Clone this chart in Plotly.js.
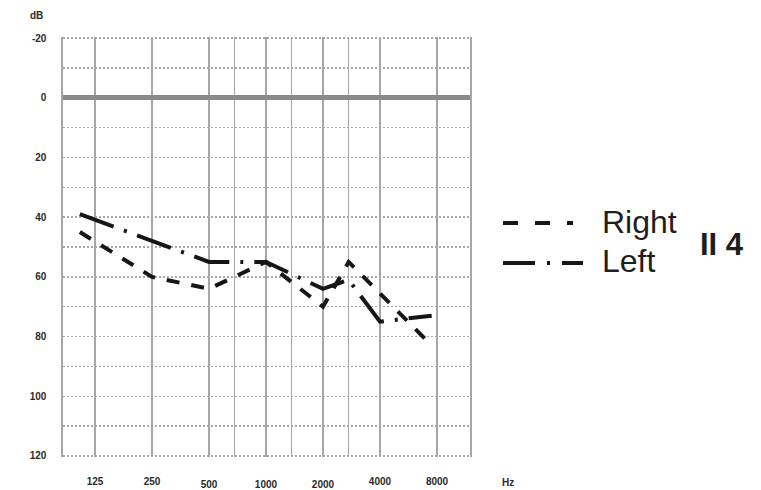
<!DOCTYPE html>
<html>
<head>
<meta charset="utf-8">
<script src="https://cdn.plot.ly/plotly-3.0.1.min.js"></script>
<style>html,body{margin:0;padding:0;background:#fff;}#chart{width:761px;height:490px;}</style>
</head>
<body>
<div id="chart"></div>
<script>
// ---- data ----
const octaveHz = [125, 250, 500, 1000, 2000, 4000, 8000];
const midHz = [750, 1500, 3000];            // inter-octave grid lines on the form
const xTickLabels = ['125', '250', '500', '1000', '2000', '4000', '8000'];
const yLabelVals = [-20, 0, 20, 40, 60, 80, 100, 120];

const rightHz = [104, 250, 500, 1000, 2000, 3000, 7500];
const rightDb = [45, 60, 64, 55, 70, 55, 83];

const leftHz = [104, 500, 1000, 2000, 3000, 4000, 6000, 7500];
const leftDb = [39, 55, 55, 64, 61, 75, 74, 73];

// audiogram-form x position: one unit per octave from 125 Hz,
// inter-octave frequencies sit at the form's intermediate line
const INTER = 0.45;
const interHz = [750, 1500, 3000, 6000];
function audPos(f) {
  const k = Math.log2(f / 125);
  if (interHz.includes(f)) return Math.floor(k) + INTER;
  return k;
}

const gridPos = octaveHz.concat(midHz).map(audPos).sort((a, b) => a - b);
const lowerSet = ['500', '1000', '2000'];
const upperText = gridPos.map(p => {
  const i = octaveHz.map(audPos).indexOf(p);
  if (i < 0) return '';
  return lowerSet.includes(xTickLabels[i]) ? '' : xTickLabels[i];
});
const lowerVals = octaveHz.filter((f, i) => lowerSet.includes(xTickLabels[i])).map(audPos);
const lowerText = xTickLabels.filter(t => lowerSet.includes(t));

const yGridVals = [];
for (let v = -20; v <= 120; v += 10) yGridVals.push(v);
const yGridText = yGridVals.map(v => yLabelVals.includes(v) ? String(v) : '');

const FONT = 'Liberation Sans, Arial, sans-serif';
const INK = '#161616';
const GRID = '#a6a6a6';
const tickFont = {family: FONT, size: 10, color: '#2a2a2a', weight: 'bold'};
const xRange = [-0.561, 6.579];

const traces = [
  {x: rightHz.map(audPos), y: rightDb, type: 'scatter', mode: 'lines', name: 'Right',
   line: {color: INK, width: 4, dash: '13px,12px'}, showlegend: false, hoverinfo: 'skip'},
  {x: leftHz.map(audPos), y: leftDb, type: 'scatter', mode: 'lines', name: 'Left',
   line: {color: INK, width: 4, dash: '36px,11px,3px,11px'}, showlegend: false, hoverinfo: 'skip'},
  {x: [], y: [], xaxis: 'x2', yaxis: 'y', type: 'scatter', showlegend: false, hoverinfo: 'skip'}
];

// paper helpers for the drawn legend (plot area 63..470 x 37..457 px)
const px = v => (v - 63) / 407;
const py = v => (457 - v) / 420;

const layout = {
  width: 761, height: 490,
  margin: {l: 63, r: 291, t: 37, b: 33, pad: 0},
  paper_bgcolor: '#fff', plot_bgcolor: '#fff',
  showlegend: false,
  xaxis: {
    range: xRange, tickmode: 'array', tickvals: gridPos, ticktext: upperText,
    showgrid: true, gridcolor: GRID, gridwidth: 1.6, zeroline: false,
    ticks: '', showline: false, tickfont: tickFont, ticklabelstandoff: 17, fixedrange: true
  },
  xaxis2: {
    overlaying: 'x', matches: 'x', range: xRange, tickmode: 'array', tickvals: lowerVals, ticktext: lowerText,
    showgrid: false, zeroline: false, ticks: '', showline: false, side: 'bottom',
    tickfont: tickFont, ticklabelstandoff: 20, fixedrange: true
  },
  yaxis: {
    range: [120.35, -20.35], tickmode: 'array', tickvals: yGridVals, ticktext: yGridText,
    showgrid: true, gridcolor: GRID, gridwidth: 1.5, griddash: '2px,2px',
    zeroline: true, zerolinecolor: '#8a8a8a', zerolinewidth: 5,
    showline: true, mirror: true, linecolor: GRID, linewidth: 1.6,
    ticks: '', tickfont: tickFont, ticklabelstandoff: 13, fixedrange: true
  },
  shapes: [
    {type: 'line', xref: 'paper', yref: 'paper', x0: px(503), x1: px(573), y0: py(223), y1: py(223),
     line: {color: INK, width: 4, dash: '15px,17px'}},
    {type: 'line', xref: 'paper', yref: 'paper', x0: px(503), x1: px(583), y0: py(263), y1: py(263),
     line: {color: INK, width: 4, dash: '32px,12px,3px,12px'}}
  ],
  annotations: [
    {xref: 'paper', yref: 'paper', x: px(600), y: py(222), xanchor: 'left', yanchor: 'middle',
     text: 'Right', showarrow: false, font: {family: FONT, size: 32, color: '#1e1e1e'}},
    {xref: 'paper', yref: 'paper', x: px(600), y: py(261), xanchor: 'left', yanchor: 'middle',
     text: 'Left', showarrow: false, font: {family: FONT, size: 32, color: '#1e1e1e'}},
    {xref: 'paper', yref: 'paper', x: px(698), y: py(244), xanchor: 'left', yanchor: 'middle',
     text: 'II 4', showarrow: false, font: {family: FONT, size: 31, color: '#1e1e1e', weight: 'bold'}},
    {xref: 'paper', yref: 'paper', x: px(36), y: py(16), xanchor: 'center', yanchor: 'middle',
     text: 'dB', showarrow: false, font: tickFont},
    {xref: 'paper', yref: 'paper', x: px(508), y: py(482), xanchor: 'center', yanchor: 'middle',
     text: 'Hz', showarrow: false, font: tickFont}
  ]
};

Plotly.newPlot('chart', traces, layout, {displayModeBar: false, staticPlot: true});
</script>
</body>
</html>
